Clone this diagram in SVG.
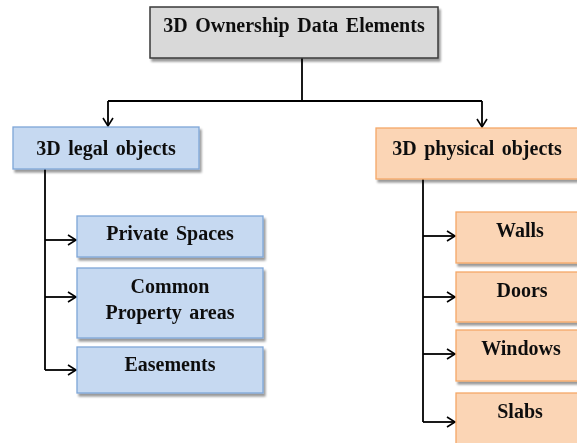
<svg xmlns="http://www.w3.org/2000/svg" width="577" height="443" viewBox="0 0 577 443">
  <defs>
    <filter id="shadow" x="-10%" y="-10%" width="130%" height="140%">
      <feGaussianBlur in="SourceAlpha" stdDeviation="1.3"/>
      <feOffset dx="2" dy="2.5" result="b"/>
      <feComponentTransfer><feFuncA type="linear" slope="0.4"/></feComponentTransfer>
      <feMerge><feMergeNode/><feMergeNode in="SourceGraphic"/></feMerge>
    </filter>
    <marker id="arrow" markerWidth="12" markerHeight="14" refX="10" refY="7" orient="auto" markerUnits="userSpaceOnUse">
      <path d="M2,2 L10,7 L2,12" fill="none" stroke="#000" stroke-width="1.6"/>
    </marker>
  </defs>
  <style>
    .root { fill: #d9d9d9; stroke: #3a3a3a; stroke-width: 1.5; }
    .legal { fill: #c6d9f1; stroke: #7ea6d8; stroke-width: 1.3; }
    .phys { fill: #fbd5b5; stroke: #f4a868; stroke-width: 1.3; }
    text { font-family: "Liberation Serif", "Times New Roman", serif; font-weight: bold; font-size: 20px; fill: #111; text-anchor: middle; word-spacing: 2.5px; }
    .wire { fill: none; stroke: #000; stroke-width: 1.8; }
  </style>

  <!-- connectors -->
  <g id="connectors">
    <path class="wire" d="M302,58 V101"/>
    <path class="wire" d="M108,101 H482"/>
    <path class="wire" d="M108,101 V126" marker-end="url(#arrow)"/>
    <path class="wire" d="M482,101 V127" marker-end="url(#arrow)"/>
    <path class="wire" d="M45,169 V370"/>
    <path class="wire" d="M45,240 H76" marker-end="url(#arrow)"/>
    <path class="wire" d="M45,297 H76" marker-end="url(#arrow)"/>
    <path class="wire" d="M45,370 H76" marker-end="url(#arrow)"/>
    <path class="wire" d="M423,179 V422"/>
    <path class="wire" d="M423,236 H455" marker-end="url(#arrow)"/>
    <path class="wire" d="M423,297 H455" marker-end="url(#arrow)"/>
    <path class="wire" d="M423,354 H455" marker-end="url(#arrow)"/>
    <path class="wire" d="M423,422 H455" marker-end="url(#arrow)"/>
  </g>

  <g id="root" filter="url(#shadow)">
    <rect class="root" x="150" y="7" width="288" height="51"/>
    <text x="294" y="32">3D Ownership Data Elements</text>
  </g>

  <g id="legal" filter="url(#shadow)">
    <rect class="legal" x="13" y="127" width="186" height="42"/>
    <text x="106" y="155">3D legal objects</text>
  </g>
  <g id="private-spaces" filter="url(#shadow)">
    <rect class="legal" x="77" y="216" width="186" height="41"/>
    <text x="170" y="240">Private Spaces</text>
  </g>
  <g id="common-property" filter="url(#shadow)">
    <rect class="legal" x="77" y="268" width="186" height="70"/>
    <text x="170" y="293">Common</text>
    <text x="170" y="319">Property areas</text>
  </g>
  <g id="easements" filter="url(#shadow)">
    <rect class="legal" x="77" y="347" width="186" height="46"/>
    <text x="170" y="371">Easements</text>
  </g>

  <g id="physical" filter="url(#shadow)">
    <rect class="phys" x="376" y="128" width="210" height="51"/>
    <text x="477" y="155">3D physical objects</text>
  </g>
  <g id="walls" filter="url(#shadow)">
    <rect class="phys" x="456" y="212" width="130" height="51"/>
    <text x="520" y="237">Walls</text>
  </g>
  <g id="doors" filter="url(#shadow)">
    <rect class="phys" x="456" y="272" width="130" height="50"/>
    <text x="522" y="297">Doors</text>
  </g>
  <g id="windows" filter="url(#shadow)">
    <rect class="phys" x="456" y="330" width="130" height="51"/>
    <text x="521" y="355">Windows</text>
  </g>
  <g id="slabs" filter="url(#shadow)">
    <rect class="phys" x="456" y="393" width="130" height="60"/>
    <text x="520" y="418">Slabs</text>
  </g>
</svg>
